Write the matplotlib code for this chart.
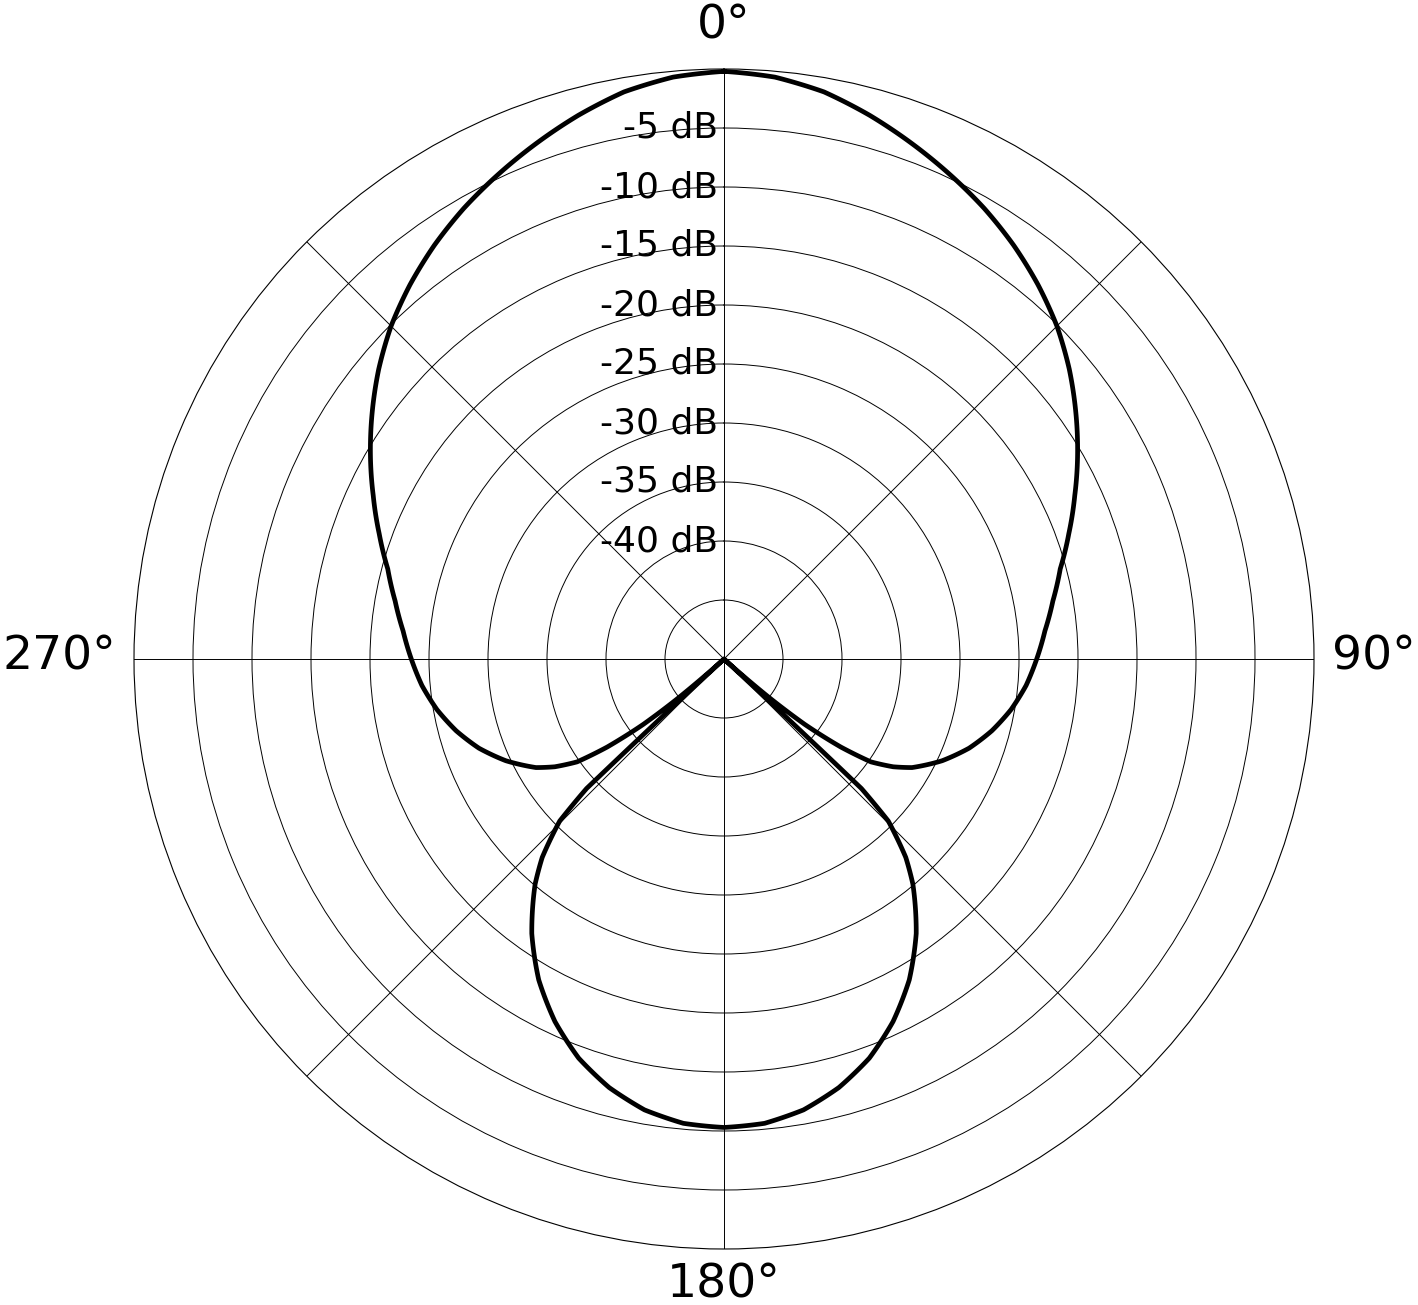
import numpy as np
import matplotlib.pyplot as plt

plt.rcParams["font.family"] = "DejaVu Sans"

# rings / labels
ring_levels = [-45, -40, -35, -30, -25, -20, -15, -10, -5]
label_levels = [-5, -10, -15, -20, -25, -30, -35, -40]
spoke_angles = [0, 45, 90, 135, 180, 225, 270, 315]
angle_labels = ["0°", "90°", "180°", "270°"]

# right half of the pattern, angle in deg, level in dB
front_deg = [0, 5, 10, 15, 20, 25, 30, 35, 40, 45, 50, 55, 60, 65, 70, 75, 80, 85,
             90, 95, 100, 105, 110, 115, 120, 122.5, 125, 127, 129, 130.5, 131.5, 132.2]
front_db = [-0.2, -0.5, -1.2, -2.3, -3.5, -4.7, -5.9, -7.2, -8.6, -10.1, -11.8, -13.6,
            -15.4, -17.2, -18.9, -20.5, -21.7, -22.7, -23.5, -24.3, -25.3, -26.5, -27.9,
            -29.6, -31.6, -33.0, -34.8, -37.6, -41.2, -45.0, -48.3, -50.0]
rear_deg = [133.0, 133.1, 133.3, 134.6, 135.9, 137.5, 140, 145, 150, 155, 160, 165,
            170, 175, 180]
rear_db = [-50.0, -42.0, -34.0, -30.45, -29.0, -27.2, -25.1, -21.6, -18.6, -16.1,
           -14.0, -12.4, -11.2, -10.5, -10.3]

half_deg = front_deg + rear_deg
half_db = front_db + rear_db
full_deg = half_deg + [360 - d for d in half_deg[::-1]]
full_db = half_db + half_db[::-1]

fig = plt.figure(figsize=(14.18, 13.05), dpi=100)
ax = fig.add_axes([134/1418, 56/1305, 1180/1418, 1180/1305], projection='polar')
ax.set_theta_zero_location('N')
ax.set_theta_direction(-1)
ax.set_ylim(-50, 0)
ax.set_yticks(ring_levels)
ax.set_yticklabels([])
ax.set_xticks(np.deg2rad(spoke_angles))
ax.set_xticklabels([])
ax.grid(True, color='black', lw=0.7)
ax.spines['polar'].set_linewidth(0.8)

line, = ax.plot(np.deg2rad(full_deg), full_db, color='black', lw=3.4,
                solid_joinstyle='round')
# let the polar transform draw each segment as a curve, not a chord
line.get_path()._interpolation_steps = 16

for lvl in label_levels:
    ax.annotate(f'{lvl} dB', xy=(0, lvl), xytext=(-4.3, -7.2), textcoords='offset points',
                ha='right', va='baseline', fontsize=26)

# angle labels
offs = {"0°": (0, 22.3, 'center'), "90°": (13, -7.9, 'left'),
        "180°": (0, -35, 'center'), "270°": (-13, -7.9, 'right')}
for lab, ang in zip(angle_labels, [0, 90, 180, 270]):
    dx, dy, ha = offs[lab]
    ax.annotate(lab, xy=(np.deg2rad(ang), 0), xytext=(dx, dy), textcoords='offset points',
                ha=ha, va='baseline', fontsize=34, annotation_clip=False)

fig.savefig('out.png', dpi=100)
